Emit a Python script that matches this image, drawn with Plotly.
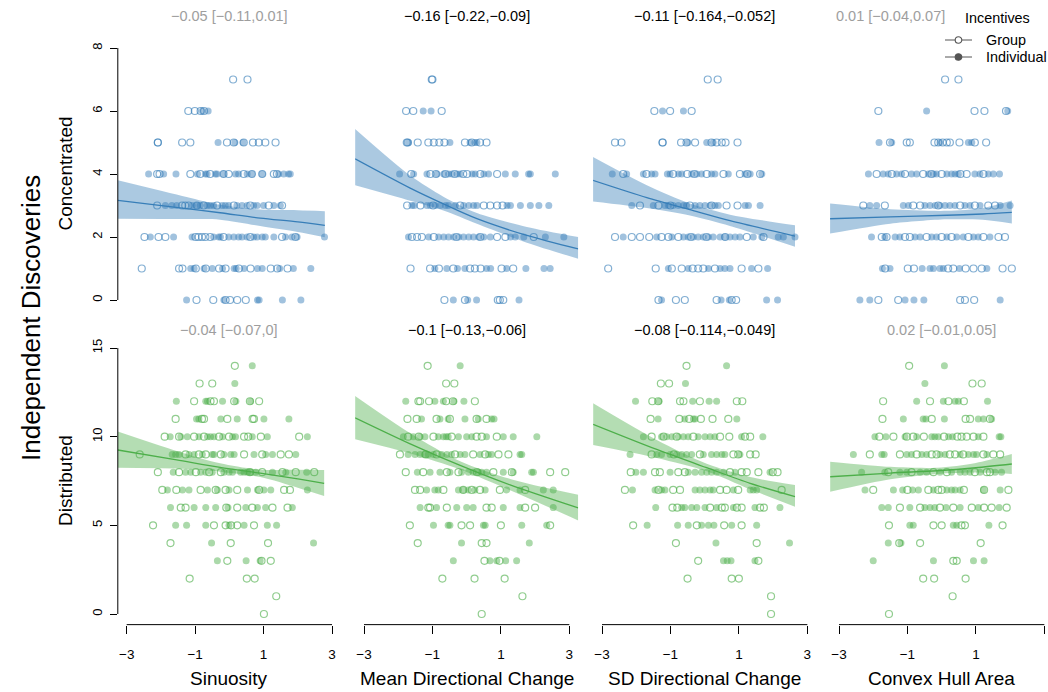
import plotly.graph_objects as go

W, H = 1048, 692
FONT = "Liberation Sans, Arial, Helvetica, sans-serif"

# ---------------- data ----------------
x_titles = ["Sinuosity", "Mean Directional Change", "SD Directional Change", "Convex Hull Area"]
row_titles = ["Concentrated", "Distributed"]
main_ytitle = "Independent Discoveries"
coef_top = ["−0.05 [−0.11,0.01]", "−0.16 [−0.22,−0.09]", "−0.11 [−0.164,−0.052]", "0.01 [−0.04,0.07]"]
coef_top_sig = [False, True, True, False]
coef_bot = ["−0.04 [−0.07,0]", "−0.1 [−0.13,−0.06]", "−0.08 [−0.114,−0.049]", "0.02 [−0.01,0.05]"]
coef_bot_sig = [False, True, True, False]
x_ticks = [-3, -1, 1, 3]
y_ticks_top = [0, 2, 4, 6, 8]
y_ticks_bot = [0, 5, 10, 15]
legend_title = "Incentives"
legend_names = ["Group", "Individual"]

# --- points: {count level: [standardised predictor values]} ---
top_sin_group = {7: [0.11, 0.53], 6: [-1.20, -1.01, -0.84, -0.74],
    5: [-2.09, -2.09, -1.38, -1.14, -0.07, 0.13, 0.42, 0.69, 0.86, 1.05, 1.35],
    4: [-2.11, -2.04, -1.14, -0.85, -0.56, -0.17, -0.02, 0.42, 0.66, 0.96, 1.30, 1.39],
    3: [-2.11, -1.38, -1.29, -1.19, -0.95, -0.75, -0.36, 0.13, 0.61, 1.15, 1.54],
    2: [-2.48, -2.07, -1.87, -0.99, -0.90, -0.80, -0.70, -0.56, -0.17, 0.61, 1.54, 1.93],
    1: [-2.56, -1.47, -1.37, -0.98, -0.69, -0.30, -0.11, 0.28, 0.62, 1.21, 1.40, 1.70],
    0: [-0.96, -0.47, -0.11, 0.02, 0.23, 0.48]}
top_sin_indiv = {6: [-0.79, -0.62], 5: [-0.33, 0.16, 0.40],
    4: [-2.36, -1.92, -1.56, -0.93, -0.70, -0.65, -0.41, -0.36, -0.17, 0.18, 0.27, 0.52, 0.66, 0.96, 1.44, 1.59, 1.73, 1.78],
    3: [-1.87, -1.68, -1.54, -1.09, -0.95, -0.85, -0.65, -0.56, -0.46, -0.21, -0.12, -0.02, 0.22, 0.37, 0.52, 0.71, 0.81, 1.00, 1.30, 1.49],
    2: [-2.31, -1.63, -1.09, -0.46, -0.31, -0.26, -0.02, 0.13, 0.27, 0.37, 0.52, 0.71, 0.81, 0.96, 1.05, 1.30, 1.64, 1.83, 1.98, 2.78],
    1: [-1.13, -1.03, -0.74, -0.50, -0.20, 0.14, 0.20, 0.43, 0.82, 0.96, 1.47, 1.87, 2.38],
    0: [-1.25, -0.16, 0.82, 0.87, 1.55, 2.09]}

top_mdc_group = {7: [-1.02, -1.00], 6: [-1.77, -1.56, -0.73],
    5: [-1.75, -1.72, -1.43, -1.12, -0.96, -0.80, -0.65, -0.05, 0.15, 0.39, 0.58],
    4: [-1.62, -1.06, -0.90, -0.62, -0.35, -0.10, 0.01, 0.40, 0.89],
    3: [-1.74, -1.35, -0.98, -0.19, 0.50, 0.69, 0.89, 1.05],
    2: [-1.60, -1.45, -1.31, -0.96, -0.30, 0.40, 0.89, 1.13, 1.96],
    1: [-1.64, -1.07, -0.81, -0.39, 0.10, 0.24, 0.41, 1.02, 1.36],
    0: [-0.65, -0.05, 0.91, 0.97, 1.07]}
top_mdc_indiv = {6: [-1.27, -1.04], 5: [-1.70, -0.49, 0.10, 0.24, 0.30],
    4: [-1.96, -1.55, -1.16, -0.87, -0.67, -0.53, -0.43, -0.28, -0.19, 0.16, 0.25, 0.50, 0.64, 1.13, 1.42, 1.81, 1.86, 2.59],
    3: [-1.60, -1.53, -1.16, -1.06, -0.92, -0.77, -0.62, -0.53, -0.33, -0.09, 0.06, 0.20, 0.30, 1.18, 1.28, 1.57, 1.86, 2.11, 2.40],
    2: [-1.70, -1.11, -0.82, -0.67, -0.53, -0.38, -0.23, -0.09, 0.06, 0.20, 0.35, 0.50, 0.69, 1.28, 1.42, 1.67, 2.30, 2.84],
    1: [-0.93, -0.58, -0.27, -0.05, 0.58, 0.70, 1.17, 1.73, 2.26, 2.44],
    0: [-0.39, 0.03, 0.29, 1.53]}

top_sdc_group = {7: [0.09, 0.38], 6: [-1.47, -1.01, -0.38],
    5: [-2.62, -2.43, -1.23, -1.23, -0.69, -0.53, -0.28, 0.20, 0.35, 0.50, 0.61, 0.96],
    4: [-2.38, -1.70, -0.92, -0.51, -0.30, 0.06, 0.55, 1.03, 1.25, 1.62],
    3: [-1.89, -1.35, -1.00, -0.43, 0.20, 0.64, 0.96],
    2: [-2.62, -2.13, -1.89, -1.62, -1.26, -1.06, -0.77, -0.40, 0.05, 0.60, 1.23, 1.72],
    1: [-2.82, -1.43, -0.96, -0.67, -0.35, -0.19, -0.04, 0.30, 1.08, 1.57],
    0: [-1.35, -0.84, -0.58, 0.35, 0.79, 0.92]}
top_sdc_indiv = {6: [-1.23, -0.62], 5: [-0.49, 0.06, 0.25],
    4: [-2.70, -2.28, -1.79, -1.55, -1.45, -1.09, -1.01, -0.77, -0.67, -0.38, -0.23, -0.09, 0.20, 0.30, 0.69, 1.18, 1.33, 1.67],
    3: [-2.13, -1.50, -1.16, -1.06, -0.92, -0.77, -0.62, -0.53, -0.28, -0.14, 0.01, 0.16, 0.30, 0.40, 1.18, 1.28, 1.62],
    2: [-2.38, -1.40, -0.96, -0.62, -0.48, -0.33, -0.19, -0.04, 0.11, 0.25, 0.45, 0.59, 0.74, 0.89, 1.03, 1.42, 1.67, 2.15, 2.30, 2.64],
    1: [-1.06, -0.48, 0.11, 0.45, 0.59, 0.74, 1.37, 1.84],
    0: [-1.26, 0.48, 0.72, 1.81, 2.13]}

top_cha_group = {7: [0.10, 0.49], 6: [-1.85, 0.96, 1.25, 1.88],
    5: [-1.51, -1.02, -0.93, -0.21, -0.10, 0.03, 0.15, 0.24, 0.52, 0.97, 1.30],
    4: [-1.90, -1.46, -1.07, -0.54, -0.30, 0.00, 0.55, 0.73, 1.22],
    3: [-2.29, -1.66, -0.83, -0.63, -0.10, 0.54, 0.97, 1.36, 1.56],
    2: [-1.75, -1.61, -1.07, -0.93, -0.44, 0.00, 0.29, 0.78, 1.22, 1.66, 1.85],
    1: [-1.65, -0.99, -0.81, 0.19, 0.34, 0.70, 0.93, 1.17, 1.78, 2.05],
    0: [-1.85, -1.27, 0.54, 0.68, 0.95]}
top_cha_indiv = {6: [-0.44, 1.93], 5: [-1.83, -1.46, -0.05, 0.78, 0.88],
    4: [-2.14, -1.71, -1.56, -1.32, -1.17, -0.88, -0.73, -0.39, -0.24, -0.15, 0.15, 0.29, 0.39, 0.49, 0.97, 1.12, 1.36, 1.51, 1.69],
    3: [-2.10, -1.90, -1.12, -0.97, -0.49, -0.34, -0.19, -0.05, 0.10, 0.24, 0.39, 0.68, 0.83, 1.12, 1.71, 2.00],
    2: [-2.05, -1.66, -1.36, -1.22, -0.78, -0.63, -0.29, -0.15, 0.15, 0.44, 0.63, 0.93, 1.07, 1.41],
    1: [-1.73, -1.51, -0.57, -0.34, -0.24, -0.05, 0.05, 0.52, 1.32],
    0: [-2.39, -2.10, -1.07, -0.81, -0.52, 1.71]}

bot_sin_group = {14: [0.16], 13: [-0.87, -0.50],
    12: [-1.03, -0.55, -0.45, 0.14, 0.60, 0.87],
    11: [-1.57, -0.80, -0.74, -0.06, 0.68, 0.72],
    10: [-1.89, -1.47, -1.03, -0.74, -0.30, -0.01, 0.43, 0.55, 0.92, 2.04],
    9: [-2.62, -1.28, -0.89, -0.69, -0.25, 0.43, 0.96, 1.50, 1.74],
    8: [-2.09, -1.47, -0.98, -0.59, -0.25, 0.60, 0.96, 1.55, 1.94, 2.48],
    7: [-1.96, -1.55, -0.84, -0.40, -0.11, 0.23, 0.87, 1.60, 1.77],
    6: [-1.42, -1.28, -0.09, 0.23, 0.67, 1.26, 1.70],
    5: [-2.23, -0.45, -0.11, 0.05, 0.23, 0.72],
    4: [-1.72, 0.04, 1.13], 3: [-0.06, 0.94, 1.21], 2: [-1.16, 0.51, 0.74], 1: [1.37], 0: [1.01]}
bot_sin_indiv = {14: [0.67], 13: [0.16],
    12: [-1.55, -0.69, -0.64, -0.20, 0.19, 0.62],
    11: [-0.96, -0.89, -0.25, 0.23, 1.01, 1.74],
    10: [-1.73, -1.42, -1.23, -0.89, -0.64, -0.55, -0.45, -0.20, 0.09, 0.18, 0.67, 1.11, 2.28],
    9: [-1.67, -1.57, -1.47, -1.18, -1.03, -0.79, -0.50, -0.45, -0.16, 0.04, 0.14, 0.72, 1.06, 1.26, 1.94],
    8: [-1.64, -1.28, -1.13, -0.84, -0.69, -0.50, -0.16, -0.01, 0.09, 0.33, 0.43, 0.53, 0.62, 0.77, 1.26, 1.65, 2.26],
    7: [-1.81, -1.37, -1.18, -0.64, -0.35, -0.01, 0.53, 0.82, 1.01, 1.21, 2.28],
    6: [-1.72, -1.03, -0.69, -0.40, -0.04, 0.48, 0.82, 1.06, 1.84],
    5: [-1.57, -1.25, -0.69, -0.01, 0.43, 1.11, 1.38],
    4: [-0.52, 2.46], 3: [-0.35, 0.49, 0.90]}

bot_mdc_group = {14: [-1.14], 13: [-0.60, -0.36],
    12: [-1.41, -1.36, -1.10, -0.60, -0.40, 0.24],
    11: [-1.73, -1.46, -0.88, -0.49, 0.29, 0.58],
    10: [-1.71, -1.40, -0.97, -0.44, 0.29, 0.44, 0.88],
    9: [-1.95, -1.20, -0.88, -0.34, 0.19, 0.54, 0.93, 1.22],
    8: [-1.78, -1.27, -0.58, -0.24, 0.30, 0.78, 1.32, 2.44, 2.88],
    7: [-1.51, -1.36, -0.68, -0.10, 0.15, 0.39, 0.97, 1.71],
    6: [-1.12, -1.07, -0.58, 0.58, 0.73, 1.71, 2.00],
    5: [-1.66, -0.15, 0.10, 1.00, 2.44],
    4: [-1.43, 0.44, 0.58], 3: [0.52, 0.96], 2: [-0.71, 0.23, 1.11], 1: [1.63], 0: [0.44]}
bot_mdc_indiv = {14: [-0.19],
    12: [-1.78, -0.93, -0.68, -0.37, -0.08],
    11: [-1.32, -0.78, -0.54, -0.05, 0.34, 0.73, 0.80],
    10: [-1.85, -1.56, -1.36, -1.22, -0.83, -0.68, -0.60, -0.54, -0.24, 0.00, 0.15, 0.58, 1.07, 1.36, 2.05],
    9: [-1.71, -1.51, -1.36, -1.22, -1.12, -0.97, -0.73, -0.58, -0.44, -0.19, -0.05, 0.39, 0.63, 0.73, 1.56, 1.61],
    8: [-1.44, -1.07, -0.78, -0.49, -0.15, 0.05, 0.19, 0.34, 0.44, 0.58, 1.07, 1.36, 1.90, 1.95],
    7: [-1.17, -0.93, -0.83, -0.24, -0.10, 0.05, 0.24, 0.54, 1.17, 1.56, 2.24, 2.53],
    6: [-1.36, -0.88, -0.29, 0.00, 0.19, 1.07, 1.56, 2.53],
    5: [-0.97, -0.54, -0.49, 0.49, 0.54, 1.61, 2.34],
    4: [-0.15, 1.83], 3: [-0.39, 0.68, 0.88, 1.14, 1.46]}

bot_sdc_group = {14: [-0.53], 13: [-1.28, -1.04],
    12: [-1.53, -1.36, -0.72, -0.62, -0.14, 0.94, 1.10],
    11: [-1.58, -0.74, -0.45, -0.11, 0.23, 0.69],
    10: [-1.55, -1.20, -0.82, -0.33, 0.45, 0.72, 1.18, 1.33],
    9: [-1.55, -0.90, -0.14, 0.84, 0.98, 1.33, 1.49],
    8: [-2.16, -1.45, -1.31, -0.77, -0.58, 0.74, 1.08, 1.23, 1.57, 1.99, 2.13],
    7: [-2.33, -1.35, -0.92, -0.72, 0.45, 0.64, 0.98, 2.25],
    6: [-0.94, -0.80, 0.16, 0.50, 0.59, 0.94, 1.08, 1.62, 1.73],
    5: [-2.09, -0.23, 0.57, 1.08],
    4: [-0.84, 1.52], 3: [-0.19, 1.57], 2: [-0.50, 0.79, 1.00], 1: [1.94], 0: [1.94]}
bot_sdc_indiv = {14: [0.64], 13: [-0.56],
    12: [-2.02, -1.33, -0.35, 0.13, 0.35],
    11: [-1.36, -0.58, -0.33, -0.28, 0.94],
    10: [-1.79, -1.26, -1.11, -0.96, -0.77, -0.62, -0.48, -0.19, 0.01, 0.16, 0.30, 1.08, 1.70],
    9: [-2.18, -1.40, -1.26, -1.01, -0.82, -0.67, -0.53, -0.38, -0.04, 0.20, 0.35, 0.50, 0.59, 1.03],
    8: [-2.01, -1.79, -1.01, -0.48, -0.28, -0.09, 0.06, 0.20, 0.35, 0.55, 0.89, 1.91],
    7: [-2.11, -1.45, -1.26, -1.16, -0.28, -0.14, 0.01, 0.16, 0.25, 0.84, 1.33, 1.42, 1.52],
    6: [-1.43, -0.67, -0.58, -0.38, -0.23, 0.01, 0.35, 0.84, 1.47, 2.20],
    5: [-1.68, -0.79, -0.48, -0.09, 0.11, 0.27, 0.79, 1.52],
    4: [0.33, 2.48], 3: [0.55, 0.66, 0.77, 1.47]}

bot_cha_group = {14: [-0.95], 13: [0.90, 1.17],
    12: [-1.71, -0.34, 0.20, 0.65],
    11: [-1.73, -0.29, 0.70, 0.83, 1.41],
    10: [-1.82, -1.41, -1.02, -0.83, -0.52, 0.07, 0.46, 0.58, 0.73, 0.93, 1.22],
    9: [-2.10, -1.22, -0.73, -0.29, -0.15, 0.24, 0.39, 0.63, 1.22, 1.51, 1.71],
    8: [-1.56, -0.88, -0.24, 0.15, 0.97, 1.32, 1.41],
    7: [-2.00, -1.00, -0.39, -0.10, 0.00, 0.65, 1.24, 1.95],
    6: [-1.22, -0.63, -0.05, 0.34, 0.88, 1.24, 1.46, 1.90],
    5: [-1.54, -0.24, 0.00, 0.58, 0.68, 1.78],
    4: [-1.24, -0.63, 1.14], 3: [0.34, 0.44], 2: [-0.54, -0.22, 0.70], 1: [0.32], 0: [-1.54]}
bot_cha_indiv = {14: [0.08], 13: [-0.49],
    12: [-0.73, 0.05, 0.39, 0.49, 1.34],
    11: [-1.12, -0.54, -0.46, 0.08, 1.07, 1.22, 1.46],
    10: [-1.95, -1.63, -1.07, -0.73, -0.29, -0.20, -0.10, 0.20, 0.32, 1.07, 1.68, 1.73],
    9: [-2.58, -1.75, -1.68, -1.02, -0.88, -0.58, -0.44, -0.05, 0.10, 0.54, 0.78, 0.93, 1.02, 1.32],
    8: [-2.34, -1.66, -1.22, -1.02, -0.63, -0.44, -0.05, 0.29, 0.54, 0.68, 0.83, 1.12, 1.56, 1.75],
    7: [-2.24, -1.41, -1.14, -0.85, -0.68, -0.24, 0.15, 0.29, 0.39, 0.54, 1.22, 1.71],
    6: [-1.75, -1.56, -0.93, -0.49, -0.34, -0.20, 0.13, 0.54, 1.07, 1.68],
    5: [-0.93, -0.83, 0.34, 0.44, 1.38],
    4: [-1.56, -1.19], 3: [-2.00, -0.24, 0.93, 1.24]}

# --- fitted curves and 95% bands (read at a few predictor values) ---
top_sin_fx = [-3.26, -1.25, -0.27, 0.90, 2.00, 2.79]
top_sin_fit = [3.16, 2.90, 2.77, 2.60, 2.48, 2.37]
top_sin_hi = [3.80, 3.27, 3.02, 2.87, 2.85, 2.82]
top_sin_lo = [2.58, 2.57, 2.55, 2.35, 2.16, 1.99]

top_mdc_fx = [-3.26, -1.65, -0.68, 0.30, 1.76, 3.26]
top_mdc_fit = [4.48, 3.55, 3.05, 2.58, 2.05, 1.62]
top_mdc_hi = [5.43, 3.95, 3.28, 2.76, 2.32, 2.00]
top_mdc_lo = [3.64, 3.15, 2.84, 2.42, 1.82, 1.31]

top_sdc_fx = [-3.27, -1.69, -0.43, 0.74, 2.64]
top_sdc_fit = [3.80, 3.25, 2.87, 2.52, 2.03]
top_sdc_hi = [4.54, 3.64, 3.06, 2.71, 2.37]
top_sdc_lo = [3.13, 2.92, 2.68, 2.35, 1.69]

top_cha_fx = [-3.26, -1.50, 0.15, 1.20, 2.05]
top_cha_fit = [2.58, 2.64, 2.69, 2.73, 2.78]
top_cha_hi = [3.06, 2.88, 2.83, 2.92, 3.16]
top_cha_lo = [2.11, 2.42, 2.56, 2.55, 2.43]

bot_sin_fx = [-3.26, -1.54, -0.27, 0.90, 2.00, 2.77]
bot_sin_fit = [9.25, 8.69, 8.27, 7.94, 7.62, 7.37]
bot_sin_hi = [10.30, 9.20, 8.50, 8.14, 8.14, 8.12]
bot_sin_lo = [8.25, 8.20, 8.03, 7.72, 7.12, 6.65]

bot_mdc_fx = [-3.26, -1.65, -0.19, 1.27, 3.26]
bot_mdc_fit = [11.07, 9.60, 8.38, 7.28, 5.98]
bot_mdc_hi = [12.30, 10.20, 8.62, 7.62, 6.73]
bot_mdc_lo = [9.85, 9.05, 8.15, 6.98, 5.28]

bot_sdc_fx = [-3.26, -1.40, 0.06, 1.33, 2.64]
bot_sdc_fit = [10.70, 9.28, 8.25, 7.37, 6.62]
bot_sdc_hi = [11.88, 9.81, 8.47, 7.72, 7.28]
bot_sdc_lo = [9.53, 8.80, 8.05, 7.03, 6.05]

bot_cha_fx = [-3.26, -1.50, -0.14, 1.00, 2.05]
bot_cha_fit = [7.74, 7.95, 8.08, 8.25, 8.46]
bot_cha_hi = [8.59, 8.30, 8.25, 8.52, 9.02]
bot_cha_lo = [6.90, 7.60, 7.90, 7.98, 7.90]

# ---------------- styling / layout geometry (pixels) ----------------
BLUE = "55,126,184"
GREEN = "77,175,74"
LEG_GREY = "#555555"
PX_PER_X = 34.22
X_M3 = [126.7, 364.0, 602.0, 839.0]       # pixel of x = -3 in each column
XLO = -3.26
ROW_Y = {  # (pixel of y=0, pixels per unit, range)
    0: (300.0, 31.5, (-0.32, 8.32)),
    1: (614.0, 17.73, (-0.6, 15.6)),
}

panels = [
    (0, 0, top_sin_group, top_sin_indiv, top_sin_fx, top_sin_fit, top_sin_lo, top_sin_hi),
    (0, 1, top_mdc_group, top_mdc_indiv, top_mdc_fx, top_mdc_fit, top_mdc_lo, top_mdc_hi),
    (0, 2, top_sdc_group, top_sdc_indiv, top_sdc_fx, top_sdc_fit, top_sdc_lo, top_sdc_hi),
    (0, 3, top_cha_group, top_cha_indiv, top_cha_fx, top_cha_fit, top_cha_lo, top_cha_hi),
    (1, 0, bot_sin_group, bot_sin_indiv, bot_sin_fx, bot_sin_fit, bot_sin_lo, bot_sin_hi),
    (1, 1, bot_mdc_group, bot_mdc_indiv, bot_mdc_fx, bot_mdc_fit, bot_mdc_lo, bot_mdc_hi),
    (1, 2, bot_sdc_group, bot_sdc_indiv, bot_sdc_fx, bot_sdc_fit, bot_sdc_lo, bot_sdc_hi),
    (1, 3, bot_cha_group, bot_cha_indiv, bot_cha_fx, bot_cha_fit, bot_cha_lo, bot_cha_hi),
]


def expand(d):
    xs, ys = [], []
    for lvl, vals in d.items():
        xs += vals
        ys += [lvl] * len(vals)
    return xs, ys


def px_x(p):
    return p / W


def px_y(p):
    return 1 - p / H


fig = go.Figure()
layout = dict(
    width=W, height=H, margin=dict(l=0, r=0, t=0, b=0),
    paper_bgcolor="white", plot_bgcolor="white",
    font=dict(family=FONT, color="black", size=13),
    showlegend=False,
)
shapes, annotations = [], []

for i, (row, col, grp, ind, fx, fit, lo, hi) in enumerate(panels):
    n = "" if i == 0 else str(i + 1)
    xa, ya = "x" + n, "y" + n
    rgb = BLUE if row == 0 else GREEN

    # band
    fig.add_trace(go.Scatter(x=fx, y=lo, mode="lines", line=dict(width=0, shape="spline", smoothing=0.8),
                             hoverinfo="skip", xaxis=xa, yaxis=ya))
    fig.add_trace(go.Scatter(x=fx, y=hi, mode="lines", line=dict(width=0, shape="spline", smoothing=0.8),
                             fill="tonexty", fillcolor=f"rgba({rgb},0.42)",
                             hoverinfo="skip", xaxis=xa, yaxis=ya))
    # points
    gx, gy = expand(grp)
    ix, iy = expand(ind)
    fig.add_trace(go.Scatter(x=gx, y=gy, mode="markers", name=legend_names[0],
                             marker=dict(symbol="circle-open", size=7, color=f"rgba({rgb},0.62)",
                                         line=dict(width=1.2)),
                             xaxis=xa, yaxis=ya))
    fig.add_trace(go.Scatter(x=ix, y=iy, mode="markers", name=legend_names[1],
                             marker=dict(symbol="circle", size=7, color=f"rgba({rgb},0.47)",
                                         line=dict(width=0)),
                             xaxis=xa, yaxis=ya))
    # fitted line
    fig.add_trace(go.Scatter(x=fx, y=fit, mode="lines",
                             line=dict(color=f"rgb({rgb})", width=1.3, shape="spline", smoothing=0.8),
                             hoverinfo="skip", xaxis=xa, yaxis=ya))

    # axes geometry
    left_px = X_M3[col] + (XLO + 3) * PX_PER_X
    right_px = min(W, X_M3[col] + (3.26 + 3) * PX_PER_X)
    xhi = XLO + (right_px - left_px) / PX_PER_X
    y0px, pxu, yr = ROW_Y[row]
    bot_px = y0px - yr[0] * pxu
    top_px = y0px - yr[1] * pxu

    xaxis = dict(domain=[px_x(left_px), px_x(right_px)], range=[XLO, xhi], anchor=ya,
                 showgrid=False, zeroline=False, showline=False, fixedrange=True)
    if row == 1:
        xaxis.update(tickvals=x_ticks, ticks="outside", ticklen=8, tickwidth=1, tickcolor="black",
                     ticklabelstandoff=9,
                     tickfont=dict(size=13.5, family=FONT, color="black"))
        shapes.append(dict(type="line", xref=xa, yref=f"{ya} domain", x0=-3, x1=3, y0=0, y1=0,
                           line=dict(color="black", width=1)))
    else:
        xaxis.update(showticklabels=False, ticks="")
    yaxis = dict(domain=[px_y(bot_px), px_y(top_px)], range=list(yr), anchor=xa,
                 showgrid=False, zeroline=False, showline=False, fixedrange=True)
    if col == 0:
        yt = y_ticks_top if row == 0 else y_ticks_bot
        yaxis.update(tickvals=yt, ticks="outside", ticklen=7, tickwidth=1, tickcolor="black",
                     tickangle=-90, ticklabelstandoff=3,
                     tickfont=dict(size=13, family=FONT, color="black"))
        shapes.append(dict(type="line", xref=f"{xa} domain", yref=ya, x0=0, x1=0, y0=yt[0], y1=yt[-1],
                           line=dict(color="black", width=1)))
    else:
        yaxis.update(showticklabels=False, ticks="")
    layout["xaxis" + n] = xaxis
    layout["yaxis" + n] = yaxis

    # coefficient titles
    txt = coef_top[col] if row == 0 else coef_bot[col]
    sig = coef_top_sig[col] if row == 0 else coef_bot_sig[col]
    cx = X_M3[col] + 3 * PX_PER_X
    if row == 0 and col == 3:
        cx = 890
    ty = 16 if row == 0 else 330
    annotations.append(dict(text=txt, x=px_x(cx), y=px_y(ty), xref="paper", yref="paper",
                            showarrow=False, xanchor="center", yanchor="middle",
                            font=dict(size=14.5, family=FONT, color="black" if sig else "#9e9e9e")))
    if row == 1:
        annotations.append(dict(text=x_titles[col], x=px_x(cx), y=px_y(678), xref="paper", yref="paper",
                                showarrow=False, xanchor="center", yanchor="middle",
                                font=dict(size=19, family=FONT, color="black")))

# row labels
for row, cy in ((0, 173.5), (1, 481)):
    annotations.append(dict(text=row_titles[row], x=px_x(65), y=px_y(cy), xref="paper", yref="paper",
                            showarrow=False, textangle=-90, xanchor="center", yanchor="middle",
                            font=dict(size=19, family=FONT, color="black")))
annotations.append(dict(text=main_ytitle, x=px_x(31), y=px_y(318), xref="paper", yref="paper",
                        showarrow=False, textangle=-90, xanchor="center", yanchor="middle",
                        font=dict(size=26, family=FONT, color="black")))

# legend (drawn by hand to match the original's compact key)
annotations.append(dict(text=legend_title, x=px_x(997), y=px_y(18), xref="paper", yref="paper",
                        showarrow=False, xanchor="center", yanchor="middle",
                        font=dict(size=14.4, family=FONT, color="black")))
for k, (name, ly) in enumerate(zip(legend_names, (40, 57))):
    shapes.append(dict(type="line", xref="paper", yref="paper", x0=px_x(945), x1=px_x(972),
                       y0=px_y(ly), y1=px_y(ly), line=dict(color=LEG_GREY, width=1)))
    shapes.append(dict(type="circle", xref="paper", yref="paper",
                       x0=px_x(958.5 - 3.3), x1=px_x(958.5 + 3.3), y0=px_y(ly + 3.3), y1=px_y(ly - 3.3),
                       line=dict(color=LEG_GREY, width=1.1),
                       fillcolor="white" if k == 0 else LEG_GREY))
    annotations.append(dict(text=name, x=px_x(984), y=px_y(ly), xref="paper", yref="paper",
                            showarrow=False, xanchor="left", yanchor="middle",
                            font=dict(size=14.4, family=FONT, color="black")))

layout["shapes"] = shapes
layout["annotations"] = annotations
fig.update_layout(**layout)
fig.write_html("out.html", config={"displayModeBar": False, "staticPlot": True},
               post_script="document.body.style.margin='0';document.body.style.overflow='hidden';")
